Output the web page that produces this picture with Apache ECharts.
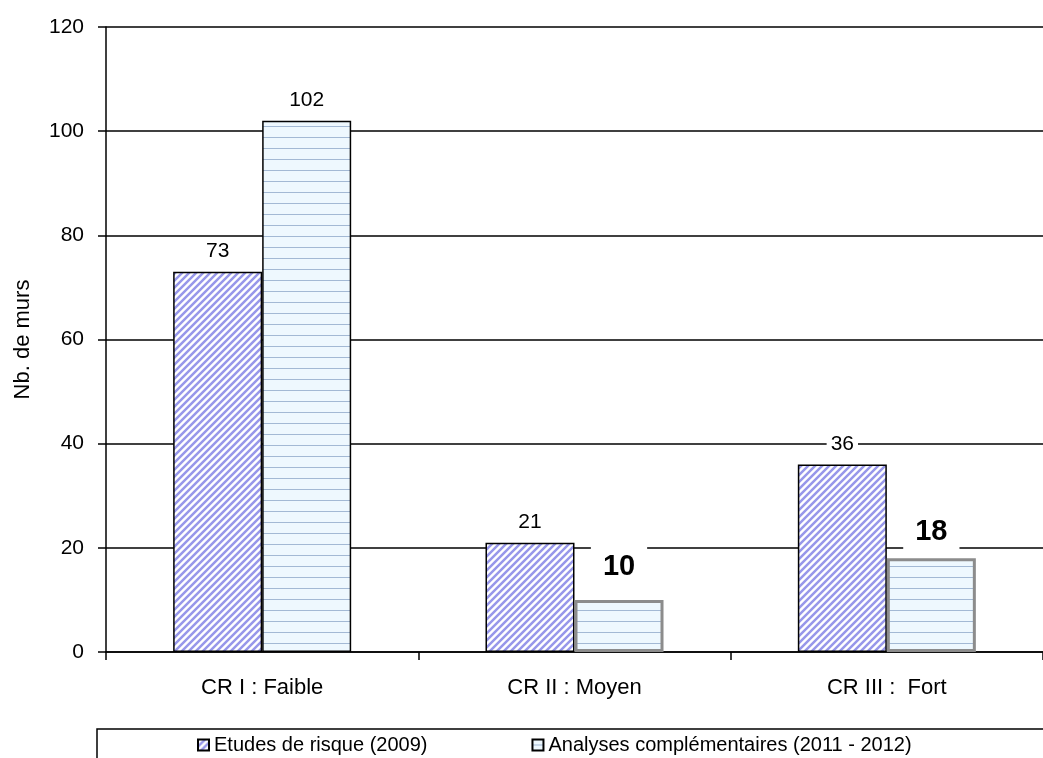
<!DOCTYPE html>
<html>
<head>
<meta charset="utf-8">
<script src="https://cdn.jsdelivr.net/npm/echarts@6/dist/echarts.min.js"></script>
<style>
  html, body { margin: 0; padding: 0; background: #fff; }
  #chart { width: 1043px; height: 758px; }
</style>
</head>
<body>
<div id="chart"></div>
<script>
// data
const categories = ["CR I : Faible", "CR II : Moyen", "CR III :  Fort"];
const seriesNames = ["Etudes de risque (2009)", "Analyses complémentaires (2011 - 2012)"];
const etudes = [73, 21, 36];
const analyses = [102, 10, 18];
const yTicks = [0, 20, 40, 60, 80, 100, 120];

const font = "Liberation Sans, Arial, sans-serif";

// hatch patterns
function diagPattern() {
  const c = document.createElement("canvas");
  const s = 7;
  c.width = s; c.height = s;
  const g = c.getContext("2d");
  g.fillStyle = "#ffffff";
  g.fillRect(0, 0, s, s);
  g.strokeStyle = "#9797ea";
  g.lineWidth = 2.5;
  g.beginPath();
  g.moveTo(-1, s + 1); g.lineTo(s + 1, -1);
  g.moveTo(-2, 2); g.lineTo(2, -2);
  g.moveTo(s - 2, s + 2); g.lineTo(s + 2, s - 2);
  g.stroke();
  return c;
}
function hlinePattern() {
  const c = document.createElement("canvas");
  c.width = 4; c.height = 11;
  const g = c.getContext("2d");
  g.fillStyle = "#eef8fe";
  g.fillRect(0, 0, 4, 11);
  g.fillStyle = "#a3b9d4";
  g.fillRect(0, 5, 4, 1);
  return c;
}

const chart = echarts.init(document.getElementById("chart"));

const analysesData = analyses.map(function (v, i) {
  if (i === 0) return v;
  return {
    value: v,
    itemStyle: { borderColor: "#8c8c8c", borderWidth: 3 },
    label: {
      fontSize: 29,
      fontWeight: "bold",
      padding: [12, 12, 6, 12],
      distance: i === 1 ? 12 : 6
    }
  };
});

const valueLabel = {
  show: true,
  position: "top",
  distance: 8,
  color: "#000",
  fontSize: 21,
  fontFamily: font,
  backgroundColor: "#fff",
  padding: [2, 4]
};

chart.setOption({
  animation: false,
  backgroundColor: "#fff",
  textStyle: { fontFamily: font },
  grid: { left: 106, right: 0, top: 27, bottom: 106, containLabel: false },
  legend: {
    left: 97,
    top: 729,
    width: 1200,
    padding: [6, 140, 8, 100],
    icon: "rect",
    itemGap: 104,
    itemWidth: 11,
    itemHeight: 11,
    itemTextGap: 3,
    borderColor: "#000",
    borderWidth: 1.5,
    textStyle: { fontSize: 20, color: "#000", fontFamily: font },
    data: seriesNames
  },
  xAxis: {
    type: "category",
    data: categories,
    axisLine: { lineStyle: { color: "#000", width: 1.5 } },
    axisTick: { show: true, length: 8, lineStyle: { color: "#000", width: 1.5 } },
    axisLabel: { color: "#000", fontSize: 22, margin: 25, fontFamily: font }
  },
  yAxis: {
    type: "value",
    min: yTicks[0],
    max: yTicks[yTicks.length - 1],
    interval: 20,
    name: "Nb. de murs",
    nameLocation: "middle",
    nameGap: 72,
    nameTextStyle: { fontSize: 22, color: "#000", fontFamily: font },
    axisLine: { show: true, lineStyle: { color: "#000", width: 1.5 } },
    axisTick: { show: true, length: 8, lineStyle: { color: "#000", width: 1.5 } },
    axisLabel: { color: "#000", fontSize: 21, margin: 22, fontFamily: font },
    splitLine: { show: true, lineStyle: { color: "#000", width: 1.5 } }
  },
  series: [
    {
      name: seriesNames[0],
      type: "bar",
      data: etudes,
      barWidth: "28.5%",
      barGap: "0%",
      itemStyle: {
        color: { image: diagPattern(), repeat: "repeat" },
        borderColor: "#000",
        borderWidth: 1.5
      },
      label: valueLabel
    },
    {
      name: seriesNames[1],
      type: "bar",
      data: analysesData,
      barWidth: "28.5%",
      itemStyle: {
        color: { image: hlinePattern(), repeat: "repeat" },
        borderColor: "#000",
        borderWidth: 1.5
      },
      label: valueLabel
    }
  ]
});
</script>
</body>
</html>
